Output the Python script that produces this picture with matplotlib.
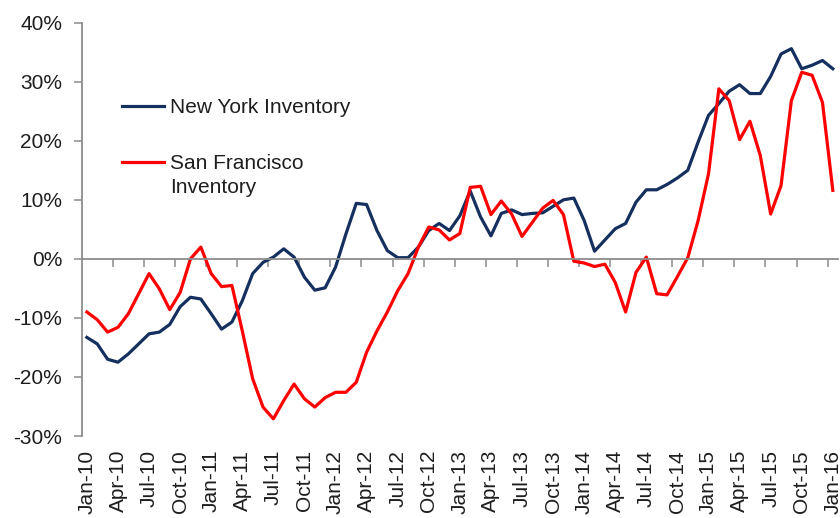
import matplotlib
matplotlib.use("Agg")
import matplotlib.pyplot as plt
from matplotlib.ticker import FuncFormatter, FixedLocator

plt.rcParams['font.family'] = ['Liberation Sans', 'DejaVu Sans']

# Monthly year-over-year change (%), Jan-10 .. Jan-16
new_york = [-13.3, -14.4, -17.0, -17.5, -16.1, -14.4, -12.7, -12.4, -11.1, -8.1,
            -6.5, -6.8, -9.3, -11.9, -10.7, -7.1, -2.5, -0.6, 0.3, 1.7,
            0.3, -3.1, -5.3, -4.9, -1.4, 4.2, 9.4, 9.2, 4.8, 1.4,
            0.2, 0.2, 2.0, 4.8, 6.0, 4.8, 7.3, 11.5, 7.1, 3.9,
            7.7, 8.3, 7.5, 7.7, 7.8, 8.9, 10.0, 10.3, 6.5, 1.3,
            3.2, 5.1, 6.0, 9.6, 11.7, 11.7, 12.6, 13.7, 15.0, 19.8,
            24.3, 26.3, 28.4, 29.5, 28.0, 28.0, 30.9, 34.7, 35.6, 32.2,
            32.8, 33.6, 32.2]
san_francisco = [-9.0, -10.3, -12.4, -11.6, -9.3, -5.9, -2.5, -5.1, -8.6, -5.7,
                 0.0, 2.0, -2.5, -4.7, -4.5, -12.2, -20.3, -25.1, -27.1, -24.0,
                 -21.2, -23.7, -25.1, -23.5, -22.6, -22.6, -20.9, -15.8, -12.2, -9.0,
                 -5.4, -2.5, 2.0, 5.4, 4.9, 3.2, 4.3, 12.1, 12.3, 7.5,
                 9.8, 7.6, 3.8, 6.2, 8.6, 9.9, 7.5, -0.4, -0.7, -1.3,
                 -0.9, -4.0, -9.0, -2.3, 0.3, -5.9, -6.1, -3.0, 0.2, 6.5,
                 14.4, 28.8, 26.8, 20.2, 23.3, 17.5, 7.6, 12.4, 26.8, 31.6,
                 31.1, 26.5, 11.6]
tick_labels = ['Jan-10', 'Apr-10', 'Jul-10', 'Oct-10', 'Jan-11', 'Apr-11', 'Jul-11',
               'Oct-11', 'Jan-12', 'Apr-12', 'Jul-12', 'Oct-12', 'Jan-13', 'Apr-13',
               'Jul-13', 'Oct-13', 'Jan-14', 'Apr-14', 'Jul-14', 'Oct-14', 'Jan-15',
               'Apr-15', 'Jul-15', 'Oct-15', 'Jan-16']
series_names = ['New York Inventory', 'San Francisco\nInventory']
y_ticks = [-30, -20, -10, 0, 10, 20, 30, 40]

NAVY = '#15305f'
RED = '#ff0000'
GRAY = '#8c8c8c'
TEXT = '#1e1e1e'
FS = 15

W, H = 840, 518
fig = plt.figure(figsize=(W / 100, H / 100), dpi=100)
left, right, top, bottom = 81.7, 838.0, 22.7, 436.0
ax = fig.add_axes([left / W, 1 - bottom / H, (right - left) / W, (bottom - top) / H])

x = list(range(len(new_york)))
ax.plot(x, new_york, color=NAVY, lw=2.3, label=series_names[0], solid_joinstyle='round')
ax.plot(x, san_francisco, color=RED, lw=2.3, label=series_names[1], solid_joinstyle='round')

ax.set_xlim(-0.5, len(x) - 0.5)
ax.set_ylim(y_ticks[0], y_ticks[-1])

# y axis
ax.set_yticks(y_ticks)
ax.yaxis.set_major_formatter(FuncFormatter(lambda v, p: f'{v:.0f}%'))
ax.tick_params(axis='y', length=6, width=1.1, color=GRAY, labelsize=FS,
               labelcolor=TEXT, pad=8)
for s in ['top', 'right']:
    ax.spines[s].set_visible(False)
ax.spines['left'].set_color(GRAY)
ax.spines['left'].set_linewidth(1.3)

# x axis line at zero with tick marks between categories
ax.spines['bottom'].set_position(('data', 0))
ax.spines['bottom'].set_color(GRAY)
ax.spines['bottom'].set_linewidth(1.3)
boundaries = [3 * k + 2.5 for k in range(len(tick_labels) - 1)]
ax.xaxis.set_major_locator(FixedLocator(boundaries))
ax.tick_params(axis='x', length=6, width=1.1, color=GRAY, labelbottom=False)

# category labels at bottom
sec = ax.secondary_xaxis('bottom')
sec.set_xticks([3 * k for k in range(len(tick_labels))])
sec.set_xticklabels(tick_labels, rotation=90, fontsize=FS, color=TEXT)
sec.tick_params(length=0, pad=10)
sec.spines['bottom'].set_visible(False)

leg = ax.legend(loc='upper left', bbox_to_anchor=(0.053, 0.817), frameon=False,
                fontsize=FS, handlelength=2.05, handletextpad=0.25,
                labelspacing=1.77, borderpad=0, borderaxespad=0)
for t in leg.get_texts():
    t.set_color(TEXT)
    t.set_linespacing(1.3)
for col in leg._legend_handle_box.get_children():
    for hp in col.get_children():
        hp.align = 'top'

fig.savefig('out.png', dpi=100)
